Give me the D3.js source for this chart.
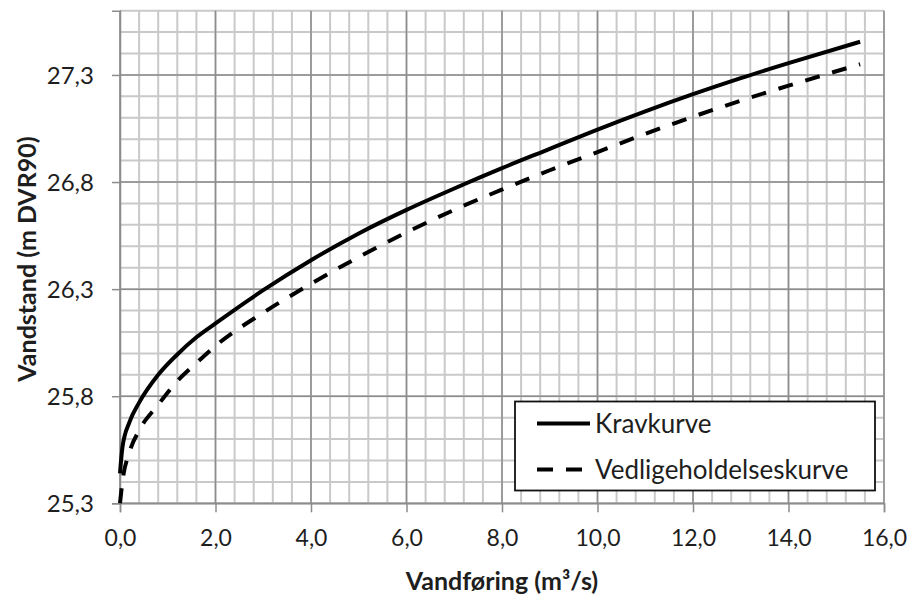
<!DOCTYPE html>
<html>
<head>
<meta charset="utf-8">
<script src="https://cdn.jsdelivr.net/npm/d3@7"></script>
<style>
  body { margin: 0; background: #fff; }
  text { font-family: Lato, "Open Sans", sans-serif; fill: #1e1e1e; }
</style>
</head>
<body>
<div id="chart"></div>
<script>
// water flow (m3/s)
const flow = [0, 0.05, 0.2, 0.4, 0.8, 1.2, 1.6, 2.0, 3.0, 4.0, 5.0, 6.0, 7.0, 8.0, 9.0, 10.0, 11.0, 12.0, 13.0, 14.0, 15.5];
// water level (m DVR90)
const kravkurve = [25.44, 25.56, 25.68, 25.77, 25.90, 25.995, 26.075, 26.14, 26.295, 26.435, 26.56, 26.67, 26.77, 26.865, 26.955, 27.045, 27.13, 27.21, 27.285, 27.355, 27.455];
const vedligeholdelseskurve = [25.30, 25.40, 25.54, 25.64, 25.76, 25.87, 25.955, 26.035, 26.19, 26.325, 26.45, 26.565, 26.67, 26.765, 26.855, 26.94, 27.025, 27.105, 27.18, 27.25, 27.35];
const seriesNames = ['Kravkurve', 'Vedligeholdelseskurve'];
const xTicks = [0, 2, 4, 6, 8, 10, 12, 14, 16];
const yTicks = [25.3, 25.8, 26.3, 26.8, 27.3];

const width = 914;
const height = 599;
const margin = {top: 10.7, right: 30, bottom: 95.7, left: 120};
const fmt = (v) => v.toFixed(1).replace('.', ',');

const svg = d3.select('#chart').append('svg')
    .attr('width', width).attr('height', height);

const x = d3.scaleLinear().domain([0, 16]).range([margin.left, width - margin.right]);
const y = d3.scaleLinear().domain([25.3, 27.6]).range([height - margin.bottom, margin.top]);

// minor grid
const xMinor = d3.range(0, 16.001, 0.4);
const yMinor = d3.range(25.3, 27.601, 0.1);
const grid = svg.append('g');
grid.selectAll('line.xm').data(xMinor).enter().append('line')
    .attr('x1', (d) => x(d)).attr('x2', (d) => x(d))
    .attr('y1', y(25.3)).attr('y2', y(27.6))
    .attr('stroke', '#c9c9c9').attr('stroke-width', 2);
grid.selectAll('line.ym').data(yMinor).enter().append('line')
    .attr('y1', (d) => y(d)).attr('y2', (d) => y(d))
    .attr('x1', x(0)).attr('x2', x(16))
    .attr('stroke', '#c9c9c9').attr('stroke-width', 2);
// major grid
grid.selectAll('line.xM').data(xTicks).enter().append('line')
    .attr('x1', (d) => x(d)).attr('x2', (d) => x(d))
    .attr('y1', y(25.3)).attr('y2', y(27.6))
    .attr('stroke', '#8c8c8c').attr('stroke-width', 1.5);
grid.selectAll('line.yM').data(yTicks).enter().append('line')
    .attr('y1', (d) => y(d)).attr('y2', (d) => y(d))
    .attr('x1', x(0)).attr('x2', x(16))
    .attr('stroke', '#8c8c8c').attr('stroke-width', 1.5);

// axes
const xAxis = svg.append('g')
    .attr('transform', 'translate(0,' + y(25.3) + ')')
    .call(d3.axisBottom(x).tickValues(xTicks).tickFormat(fmt).tickSize(9).tickPadding(17));
const yAxis = svg.append('g')
    .attr('transform', 'translate(' + x(0) + ',0)')
    .call(d3.axisLeft(y).tickValues(yTicks).tickFormat(fmt).tickSize(8).tickPadding(18));
[xAxis, yAxis].forEach((a) => {
    a.select('.domain').attr('stroke', '#8c8c8c').attr('stroke-width', 1.5);
    a.selectAll('.tick line').attr('stroke', '#8c8c8c').attr('stroke-width', 1.5);
    a.selectAll('.tick text').attr('font-size', 23).style('fill', '#1e1e1e');
});
yAxis.selectAll('.tick text').attr('dy', '0.36em').attr('font-size', 24);

// curves
const line = d3.line()
    .x((d) => x(d[0]))
    .y((d) => y(d[1]))
    .curve(d3.curveMonotoneX);

svg.append('path')
    .datum(flow.map((f, i) => [f, vedligeholdelseskurve[i]]))
    .attr('d', line)
    .attr('fill', 'none').attr('stroke', '#000').attr('stroke-width', 4)
    .attr('stroke-dasharray', '15,13');
svg.append('path')
    .datum(flow.map((f, i) => [f, kravkurve[i]]))
    .attr('d', line)
    .attr('fill', 'none').attr('stroke', '#000').attr('stroke-width', 4);

// legend
const legend = svg.append('g');
legend.append('rect')
    .attr('x', 515).attr('y', 401.5).attr('width', 360).attr('height', 89)
    .attr('fill', '#fff').attr('stroke', '#111').attr('stroke-width', 1.8);
seriesNames.forEach((name, i) => {
    const ly = 423.5 + i * 46;
    legend.append('line')
        .attr('x1', 537).attr('x2', 590).attr('y1', ly).attr('y2', ly)
        .attr('stroke', '#000').attr('stroke-width', 4)
        .attr('stroke-dasharray', i === 1 ? '16,13' : null);
    legend.append('text')
        .attr('x', 595).attr('y', ly + 9)
        .attr('font-size', 26)
        .text(name);
});

// axis titles
svg.append('text')
    .attr('x', x(8)).attr('y', 590)
    .attr('text-anchor', 'middle')
    .attr('font-size', 25).attr('font-weight', 'bold')
    .text('Vandføring (m³/s)');
svg.append('text')
    .attr('transform', 'translate(36,' + ((y(25.3) + y(27.6)) / 2 + 2) + ') rotate(-90)')
    .attr('text-anchor', 'middle')
    .attr('font-size', 25).attr('font-weight', 'bold')
    .text('Vandstand (m DVR90)');
</script>
</body>
</html>
